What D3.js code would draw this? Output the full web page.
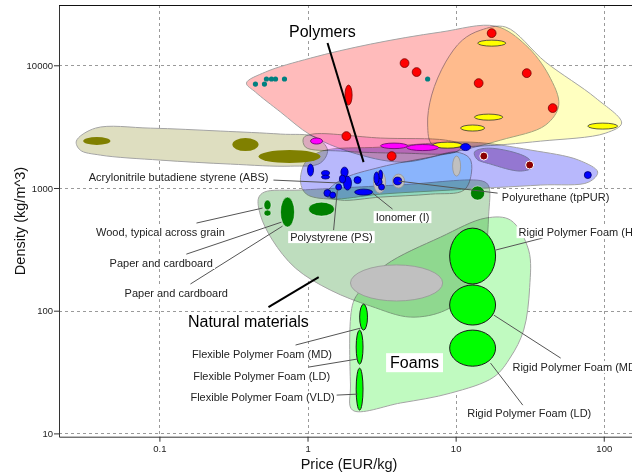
<!DOCTYPE html>
<html>
<head>
<meta charset="utf-8">
<script src="https://cdn.jsdelivr.net/npm/d3@7"></script>
<style>
  body { margin: 0; background: #fff; }
  svg { display: block; font-family: "Liberation Sans", Arial, sans-serif; }
</style>
</head>
<body>
<svg id="chart" width="632" height="475"></svg>
<script>
// ---- Axis extents and ticks: price (EUR/kg) vs density (kg/m^3), both log ----
const priceExtent = [0.021, 160];
const densityExtent = [9.4, 31000];
const priceTicks = [0.1, 1, 10, 100];
const densityTicks = [10, 100, 1000, 10000];

// ---- Family envelopes, outline points as [price, density] ----
const naturalEnvelope = [[0.467,828],[0.512,927],[0.897,962],[4.25,1060],[15.2,1138],[16.7,1038],[16.7,601],[15.7,284],[12.6,147],[8.56,101],[4.96,88.7],[2.67,109],[1.43,147],[0.830,222],[0.580,376],[0.481,601]];
const foamEnvelope = [[2.01,15.5],[1.95,24.8],[2.01,111],[2.28,147],[3.37,236],[7.92,398],[16.0,569],[23.5,547],[31.1,312],[31.6,155],[28.8,69.5],[23.5,41.9],[18.1,28.8],[9.25,21.3],[4.25,17.7]];
const compositeEnvelope = [[0.0275,2410],[0.0370,3075],[0.0869,3075],[0.258,2911],[0.657,2750],[1.13,2600],[1.365,2037],[1.22,1596],[0.768,1506],[0.302,1566],[0.1016,1687],[0.0399,1854],[0.0292,2037]];
const metalEnvelope = [[0.387,7161],[0.520,8810],[1.05,11450],[2.67,14890],[7.92,18650],[18.6,20840],[29.7,14620],[42.5,8320],[49.7,4740],[40.5,3260],[20.1,2455],[7.92,1854],[4.25,1626],[1.95,1963],[1.05,2700],[0.657,4160],[0.445,6050]];
const technicalEnvelope = [[14.8,19360],[21.8,20480],[40.5,10620],[88.3,5410],[132,3380],[103,2800],[37.5,2410],[13.6,2190],[7.0,2240],[6.47,3260],[6.89,5720],[8.56,10620],[11.1,16030]];
const glassEnvelope = [[0.939,2553],[1.08,2750],[3.11,2553],[8.56,2455],[11.1,2240],[10,1963],[4.25,1925],[1.67,2000],[0.969,2153]];
const polymerEnvelope = [[0.897,1117],[0.969,1626],[1.26,2000],[3.11,2153],[12.6,2365],[32.1,2037],[67.8,1687],[91.0,1349],[79.2,1117],[37.5,1057],[9.25,962],[3.11,891],[1.43,813],[0.984,891]];
const thermoplasticEnvelope = [[1.32,875],[1.67,1160],[3.11,1479],[6.78,1786],[10,1963],[12.4,1754],[12.8,1349],[11.4,962],[6.78,891],[3.11,843],[1.67,797]];
const fluoroEnvelope = [[13.4,1963],[16.7,2113],[30.7,1754],[33.1,1479],[27.5,1374],[17.2,1566],[13.9,1722]];

// ---- Material bubbles as [priceMin, priceMax, densityMin, densityMax] ----
const compositeMaterials = [[0.0306,0.0467,2240,2600],[0.311,0.467,2000,2553],[0.467,1.224,1596,2037]];
const glassMaterials = [[1.048,1.263,2280,2553],[3.11,4.74,2094,2323],[4.67,7.68,2018,2261]];
const ceramicMaterials = [[14.1,21.8,14320,16030],[13.4,20.8,3570,4000],[10.8,15.7,2911,3260],[78.0,124,3020,3380],[7.0,11.1,2113,2365]];
const leadAlloys = [[1.79,2.0,4740,6900]];
const greyMaterials = [[2.79,3.37,908,1374],[3.75,4.52,1000,1298],[9.54,10.8,1250,1820],[1.95,8.17,120,236]];
const polymerMaterials = [
  [1.0,1.098,1250,1566],[1.243,1.408,1262,1387],[1.243,1.408,1183,1274],[1.68,1.88,1227,1479],
  [1.75,1.98,962,1250],[1.64,1.81,1097,1274],[2.06,2.30,1086,1238],[1.55,1.70,962,1077],
  [1.29,1.44,851,971],[1.41,1.55,828,927],[2.08,2.75,875,979],[3.02,3.21,1160,1400],
  [2.86,3.19,1038,1205],[3.02,3.31,962,1077],[3.81,4.32,1060,1227],[10.8,12.6,2018,2301],
  [73.9,82.4,1194,1361],[2.81,3.04,1077,1349]
];
const naturalMaterials = [[0.508,0.567,661,797],[0.508,0.567,590,661],[0.657,0.817,480,843],[1.016,1.52,590,767],[12.6,15.7,797,1038]];
const foamMaterials = [[9.11,18.6,165,471],[9.11,18.6,76.4,162],[9.11,18.6,35.3,69.5],[2.25,2.54,69.5,113],[2.13,2.37,36.7,69.5],[2.13,2.37,15.5,34.0]];

// ---- Single-grade materials as [price, density] ----
const metalPoints = [[4.52,10420],[5.45,8810],[17.5,18280],[14.3,7160],[30.2,8630],[45.2,4480],[1.83,2650],[3.70,1820]];
const fluoroPoints = [[15.5,1820],[31.6,1540]];
const zincPoints = [[0.445,7030],[0.512,7030],[0.528,7730],[0.571,7730],[0.608,7730],[0.699,7730],[6.47,7730]];

// ---- Annotations: label text, label anchor and leader end points [price, density] ----
const annotations = [
  { text: "Polymers", at: [1.26,16980], family: true, line: [[1.365,15170],[2.39,1626]] },
  { text: "Natural materials", at: [0.399,73.5], family: true, line: [[0.545,107],[1.19,188]] },
  { text: "Foams", at: [5.28,34.0], family: true },
  { text: "Acrylonitrile butadiene styrene (ABS)", at: [0.545,1138], anchor: "end", line: [[0.589,1160],[1.67,1097]] },
  { text: "Polyurethane (tpPUR)", at: [20.5,782], anchor: "start", line: [[4.12,1138],[19.2,908]] },
  { text: "Ionomer (I)", at: [4.38,537], line: [[2.75,908],[3.75,673]] },
  { text: "Polystyrene (PS)", at: [1.45,369], line: [[1.59,962],[1.50,454]] },
  { text: "Wood, typical across grain", at: [0.1016,405], line: [[0.178,518],[0.497,686]] },
  { text: "Paper and cardboard", at: [0.103,227], line: [[0.152,289],[0.667,527]] },
  { text: "Paper and cardboard", at: [0.130,129], line: [[0.162,165],[0.678,489]] },
  { text: "Flexible Polymer Foam (MD)", at: [0.493,41.1], line: [[0.830,52.5],[2.28,72.1]] },
  { text: "Flexible Polymer Foam (LD)", at: [0.490,27.2], line: [[1.016,34.7],[2.18,40.4]] },
  { text: "Flexible Polymer Foam (VLD)", at: [0.497,18.3], line: [[1.55,20.5],[2.18,20.9]] },
  { text: "Rigid Polymer Foam (HD)", at: [26.6,405], anchor: "start", line: [[18.6,312],[38.7,391]] },
  { text: "Rigid Polymer Foam (MD)", at: [24.2,32.2], anchor: "start", line: [[18.1,92.1],[51.2,41.1]] },
  { text: "Rigid Polymer Foam (LD)", at: [31.4,13.6], line: [[17.2,37.4],[28.4,17.0]] }
];

// ---- Layout ----
const margin = { left: 59, top: 5 };
const plotW = 575, plotH = 431.7;
const svg = d3.select("#chart");

const x = d3.scaleLog().domain(priceExtent).range([margin.left, margin.left + plotW]);
const y = d3.scaleLog().domain(densityExtent).range([margin.top + plotH, margin.top]);

svg.append("defs").append("clipPath").attr("id", "plotClip")
  .append("rect").attr("x", margin.left).attr("y", margin.top)
  .attr("width", plotW + 10).attr("height", plotH);

// Dashed decade grid
const grid = svg.append("g").attr("stroke", "#9a9a9a").attr("stroke-dasharray", "3,3").attr("stroke-width", 1);
grid.selectAll("line.v").data(priceTicks).join("line").attr("class", "v")
  .attr("x1", d => Math.round(x(d)) + 0.5).attr("x2", d => Math.round(x(d)) + 0.5)
  .attr("y1", margin.top).attr("y2", margin.top + plotH);
grid.selectAll("line.h").data(densityTicks).join("line").attr("class", "h")
  .attr("y1", d => Math.round(y(d)) + 0.5).attr("y2", d => Math.round(y(d)) + 0.5)
  .attr("x1", margin.left).attr("x2", margin.left + plotW + 10);

const plot = svg.append("g").attr("clip-path", "url(#plotClip)");

// Envelopes, blended so that overlaps darken
const outline = d3.line().x(d => x(d[0])).y(d => y(d[1])).curve(d3.curveCatmullRomClosed.alpha(0.5));
const envelopes = [
  { pts: naturalEnvelope, fill: "rgb(190,221,190)" },
  { pts: foamEnvelope, fill: "rgb(192,250,192)" },
  { pts: compositeEnvelope, fill: "rgb(222,222,192)" },
  { pts: metalEnvelope, fill: "rgb(255,187,187)" },
  { pts: technicalEnvelope, fill: "rgb(255,255,192)" },
  { pts: glassEnvelope, fill: "rgb(252,196,252)" },
  { pts: polymerEnvelope, fill: "rgb(184,184,252)" },
  { pts: thermoplasticEnvelope, fill: "rgb(192,250,255)" },
  { pts: fluoroEnvelope, fill: "rgb(205,165,212)" }
];
plot.append("g").selectAll("path").data(envelopes).join("path")
  .attr("d", d => outline(d.pts))
  .attr("fill", d => d.fill)
  .attr("stroke", "#a4a4a4").attr("stroke-width", 1)
  .style("mix-blend-mode", "multiply");

// Bubbles
function drawRanges(data, fill, stroke, sw) {
  plot.append("g").selectAll("ellipse").data(data).join("ellipse")
    .attr("cx", d => (x(d[0]) + x(d[1])) / 2)
    .attr("cy", d => (y(d[2]) + y(d[3])) / 2)
    .attr("rx", d => Math.abs(x(d[1]) - x(d[0])) / 2)
    .attr("ry", d => Math.abs(y(d[3]) - y(d[2])) / 2)
    .attr("fill", fill).attr("stroke", stroke).attr("stroke-width", sw);
}
function drawPoints(data, r, fill, stroke, sw) {
  plot.append("g").selectAll("circle").data(data).join("circle")
    .attr("cx", d => x(d[0])).attr("cy", d => y(d[1])).attr("r", r)
    .attr("fill", fill).attr("stroke", stroke).attr("stroke-width", sw);
}

drawRanges(greyMaterials, "#c0c0c0", "#959595", 0.8);
drawRanges(compositeMaterials, "#808000", "none", 0);
drawPoints(zincPoints, 2.6, "#008080", "none", 0);
drawRanges(leadAlloys, "#ff0000", "#7a0000", 0.8);
drawPoints(metalPoints, 4.4, "#ff0000", "#7a0000", 0.8);
drawRanges(ceramicMaterials, "#ffff00", "#333", 0.8);
drawRanges(glassMaterials, "#ff00ff", "#6a006a", 0.8);
drawRanges(polymerMaterials, "#0000ff", "#00006a", 0.8);
drawPoints(fluoroPoints, 4, "#8b0000", "#ffffff", 1);
drawRanges(naturalMaterials, "#008000", "rgba(255,255,255,0.6)", 0.8);
drawRanges(foamMaterials, "#00ff00", "#1a1a1a", 1);

// Leader lines
const ann = svg.append("g");
ann.selectAll("line").data(annotations.filter(a => a.line)).join("line")
  .attr("x1", d => x(d.line[0][0])).attr("y1", d => y(d.line[0][1]))
  .attr("x2", d => x(d.line[1][0])).attr("y2", d => y(d.line[1][1]))
  .attr("stroke", d => d.family ? "#000" : "#555")
  .attr("stroke-width", d => d.family ? 2 : 1);

// Labels on white boxes
annotations.forEach(a => {
  const g = ann.append("g");
  const t = g.append("text")
    .attr("x", x(a.at[0])).attr("y", y(a.at[1]))
    .attr("text-anchor", a.anchor || "middle")
    .attr("font-size", a.family ? 16 : 11)
    .attr("fill", a.family ? "#000" : "#222")
    .text(a.text);
  const bb = t.node().getBBox();
  const px = a.family ? 4 : 2, py = a.family ? 1 : 0;
  g.insert("rect", "text")
    .attr("x", bb.x - px).attr("y", bb.y - py)
    .attr("width", bb.width + 2 * px).attr("height", bb.height + 2 * py)
    .attr("fill", "#fff");
});

// Axes
const minorPrice = x.ticks().filter(d => !priceTicks.includes(d));
const minorDensity = y.ticks().filter(d => !densityTicks.includes(d));
const axisColor = "#333";

const left = svg.append("g").attr("transform", `translate(${margin.left},0)`);
left.call(d3.axisLeft(y).tickValues(minorDensity).tickSize(3).tickSizeOuter(0).tickFormat(""));
left.call(d3.axisLeft(y).tickValues(densityTicks).tickSize(5).tickSizeOuter(0).tickPadding(1).tickFormat(d => String(d)));

const bottom = svg.append("g").attr("transform", `translate(0,${margin.top + plotH})`);
bottom.call(d3.axisBottom(x).tickValues(minorPrice).tickSize(3).tickSizeOuter(0).tickFormat(""));
bottom.call(d3.axisBottom(x).tickValues(priceTicks).tickSize(5).tickSizeOuter(0).tickPadding(4).tickFormat(d => String(d)));

svg.selectAll(".domain, .tick line").attr("stroke", axisColor);
svg.selectAll(".tick text").attr("font-size", 9.5).attr("fill", "#222")
  .attr("font-family", '"Liberation Sans", Arial, sans-serif');

svg.append("line")
  .attr("x1", margin.left).attr("x2", margin.left + plotW + 10)
  .attr("y1", margin.top + 0.5).attr("y2", margin.top + 0.5)
  .attr("stroke", "#111").attr("stroke-width", 1.2);

// Axis titles
svg.append("text").attr("x", 349).attr("y", 469).attr("text-anchor", "middle")
  .attr("font-size", 14.5).attr("fill", "#111").text("Price (EUR/kg)");
svg.append("text").attr("transform", "translate(25,221) rotate(-90)").attr("text-anchor", "middle")
  .attr("font-size", 14.5).attr("fill", "#111").text("Density (kg/m^3)");
</script>
</body>
</html>
